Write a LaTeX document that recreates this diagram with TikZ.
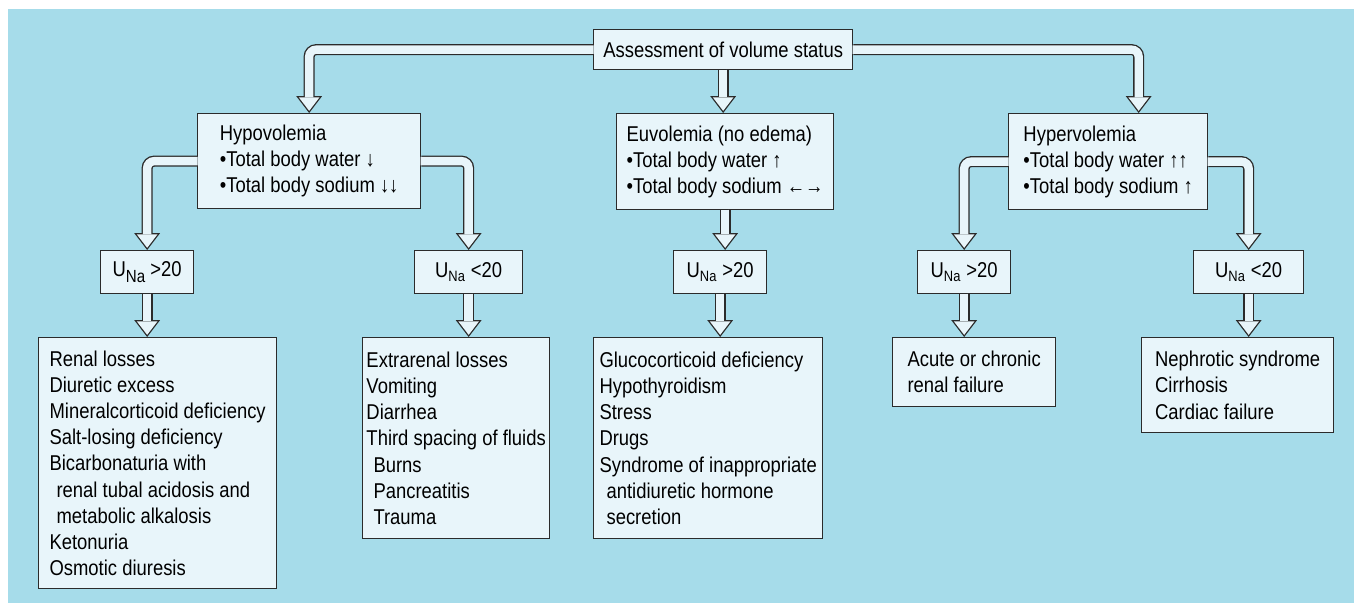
\documentclass[tikz,border=0pt]{standalone}
\usepackage{fontspec}
\setmainfont{Liberation Sans}[FakeStretch=0.86]
\usetikzlibrary{arrows.meta,calc}
\definecolor{bgblue}{HTML}{A6DCEA}
\definecolor{boxfill}{HTML}{E8F5FA}
\definecolor{edge}{HTML}{2B2B2B}
\tikzstyle{box} = [rectangle, draw=edge, fill=boxfill, line width=0.75pt, align=left, inner sep=2pt, anchor=north west, font=\fontsize{12.2pt}{14.9pt}\selectfont]
\tikzstyle{pipe} = [line width=0.22cm, draw=edge, rounded corners=0.14cm, -{Triangle[length=0.34cm, width=0.52cm, line width=0pt]}]
\tikzstyle{pipein} = [line width=0.167cm, draw=boxfill, rounded corners=0.14cm, shorten <=-0.4pt, shorten >=0.043cm, -{Triangle[length=0.271cm, width=0.414cm, line width=0pt]}]
\newcommand{\hollowarrow}[1]{\draw[pipe] #1; \draw[pipein] #1;}

\begin{document}
\begin{tikzpicture}
            \useasboundingbox (0,0) rectangle (27.08,-12.06);
            \fill[bgblue] (0.16,-0.18) rectangle (27.08,-12.06);
            \node (top) [box, align=center, minimum width=5.18cm, minimum height=0.8cm] at (11.86,-0.58) {Assessment of volume status};
            \node (hypo) [box, minimum width=4.46cm, minimum height=1.9cm] at (3.94,-2.26) {
                Hypovolemia\\
                •Total body water ↓\\
                •Total body sodium ↓↓
            };
            \node (euvo) [box, minimum width=4.34cm, minimum height=1.92cm] at (12.32,-2.26) {
                Euvolemia (no edema)\\
                •Total body water ↑\\
                •Total body sodium ←→
            };
            \node (hyper) [box, minimum width=3.98cm, minimum height=1.92cm] at (20.16,-2.26) {
                Hypervolemia\\
                •Total body water ↑↑\\
                •Total body sodium ↑
            };
            \node (u1) [box, align=center, minimum width=1.86cm, minimum height=0.86cm] at (2.00,-5.00) {U\raisebox{-0.5ex}{\fontsize{10pt}{10pt}\selectfont Na} >20};
            \node (u2) [box, align=center, minimum width=2.16cm, minimum height=0.86cm] at (8.28,-5.00) {U\textsubscript{Na} <20};
            \node (u3) [box, align=center, minimum width=1.86cm, minimum height=0.86cm] at (13.46,-5.00) {U\textsubscript{Na} >20};
            \node (u4) [box, align=center, minimum width=1.86cm, minimum height=0.86cm] at (18.34,-5.00) {U\textsubscript{Na} >20};
            \node (u5) [box, align=center, minimum width=2.20cm, minimum height=0.86cm] at (23.86,-5.00) {U\textsubscript{Na} <20};
            \node (renal) [box, minimum width=4.76cm, minimum height=5.02cm] at (0.76,-6.74) {
                Renal losses\\
                Diuretic excess\\
                Mineralcorticoid deficiency\\
                Salt-losing deficiency\\
                Bicarbonaturia with\\
                \hspace*{4pt}renal tubal acidosis and\\
                \hspace*{4pt}metabolic alkalosis\\
                Ketonuria\\
                Osmotic diuresis
            };
            \node (extra) [box, minimum width=3.74cm, minimum height=4.02cm] at (7.24,-6.74) {
                Extrarenal losses\\
                Vomiting\\
                Diarrhea\\
                Third spacing of fluids\\
                \hspace*{4pt}Burns\\
                \hspace*{4pt}Pancreatitis\\
                \hspace*{4pt}Trauma
            };
            \node (gluco) [box, minimum width=4.58cm, minimum height=4.02cm] at (11.86,-6.74) {
                Glucocorticoid deficiency\\
                Hypothyroidism\\
                Stress\\
                Drugs\\
                Syndrome of inappropriate\\
                \hspace*{4pt}antidiuretic hormone\\
                \hspace*{4pt}secretion
            };
            \node (acute) [box, minimum width=3.26cm, minimum height=1.38cm] at (17.84,-6.74) {
                Acute or chronic\\
                renal failure
            };
            \node (nephro) [box, minimum width=3.84cm, minimum height=1.9cm] at (22.82,-6.74) {
                Nephrotic syndrome\\
                Cirrhosis\\
                Cardiac failure
            };
            \hollowarrow{(top.west) -| (hypo.north)}
            \hollowarrow{(top.south) -- (top.south |- euvo.north)}
            \hollowarrow{(top.east) -| ($(hyper.north)+(0.61,0)$)}
            \hollowarrow{(hypo.west) -| (u1.north)}
            \hollowarrow{(hypo.east) -| (u2.north)}
            \hollowarrow{(euvo.south) -- (euvo.south |- u3.north)}
            \hollowarrow{(hyper.west) -| (u4.north)}
            \hollowarrow{(hyper.east) -| (u5.north)}
            \hollowarrow{(u1.south) -- (u1.south |- renal.north)}
            \hollowarrow{(u2.south) -- (u2.south |- extra.north)}
            \hollowarrow{(u3.south) -- (u3.south |- gluco.north)}
            \hollowarrow{(u4.south) -- (u4.south |- acute.north)}
            \hollowarrow{(u5.south) -- (u5.south |- nephro.north)}
        \end{tikzpicture}
\end{document}
